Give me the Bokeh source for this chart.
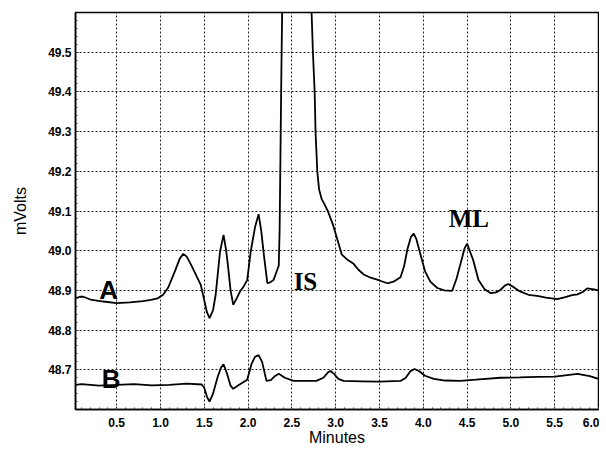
from bokeh.plotting import figure
from bokeh.models import Range1d, FixedTicker, ColumnDataSource
from bokeh.core.properties import value
from bokeh.embed import file_html
from bokeh.resources import INLINE

# ---- data ----
a_time = [0.03, 0.08, 0.12, 0.20, 0.35, 0.50, 0.65, 0.80, 0.89, 0.97,
          1.03, 1.09, 1.17, 1.22, 1.26, 1.30, 1.36, 1.42, 1.46, 1.49,
          1.53, 1.56, 1.60, 1.63, 1.68, 1.72, 1.75, 1.77, 1.80, 1.83,
          1.87, 1.91, 1.95, 1.99, 2.03, 2.08, 2.12, 2.15, 2.18, 2.22,
          2.25, 2.29, 2.33, 2.35, 2.36, 2.37, 2.38, 2.39, 2.40, 2.71,
          2.74, 2.76, 2.77, 2.79, 2.81, 2.84, 2.87, 2.91, 2.97, 3.03,
          3.07, 3.13, 3.20, 3.26, 3.32, 3.40, 3.50, 3.59, 3.66, 3.74,
          3.78, 3.82, 3.86, 3.89, 3.92, 3.95, 4.02, 4.08, 4.16, 4.24,
          4.33, 4.38, 4.42, 4.47, 4.50, 4.53, 4.57, 4.63, 4.70, 4.77,
          4.83, 4.88, 4.93, 4.97, 5.02, 5.09, 5.20, 5.30, 5.40, 5.53,
          5.62, 5.70, 5.76, 5.82, 5.87, 5.93, 6.00]
a_mv = [48.880, 48.884, 48.884, 48.877, 48.872, 48.868, 48.870, 48.873, 48.876, 48.880,
        48.889, 48.908, 48.951, 48.980, 48.992, 48.985, 48.960, 48.932, 48.914, 48.885,
        48.845, 48.830, 48.850, 48.889, 48.998, 49.040, 49.000, 48.963, 48.900, 48.864,
        48.880, 48.898, 48.910, 48.926, 48.998, 49.060, 49.092, 49.050, 48.990, 48.918,
        48.920, 48.926, 48.950, 48.962, 49.050, 49.250, 49.450, 49.620, 49.700, 49.700,
        49.500, 49.400, 49.300, 49.200, 49.155, 49.130, 49.118, 49.100, 49.065, 49.020,
        48.990, 48.978, 48.968, 48.952, 48.940, 48.932, 48.925, 48.918, 48.922, 48.933,
        48.960, 49.005, 49.035, 49.043, 49.030, 49.005, 48.948, 48.922, 48.906, 48.900,
        48.899, 48.930, 48.963, 49.005, 49.018, 49.000, 48.976, 48.926, 48.903, 48.893,
        48.895, 48.901, 48.912, 48.916, 48.910, 48.899, 48.889, 48.886, 48.882, 48.878,
        48.883, 48.888, 48.890, 48.896, 48.905, 48.903, 48.900]

b_time = [0.03, 0.10, 0.30, 0.50, 0.70, 0.90, 1.10, 1.30, 1.47, 1.50,
          1.53, 1.56, 1.60, 1.65, 1.69, 1.72, 1.76, 1.80, 1.83, 1.88,
          1.94, 1.99, 2.04, 2.08, 2.12, 2.16, 2.21, 2.26, 2.30, 2.35,
          2.42, 2.52, 2.67, 2.78, 2.86, 2.91, 2.94, 2.98, 3.03, 3.09,
          3.30, 3.50, 3.74, 3.80, 3.85, 3.90, 3.95, 4.02, 4.12, 4.25,
          4.42, 4.60, 4.88, 5.10, 5.30, 5.50, 5.76, 5.90, 6.00]
b_mv = [48.662, 48.664, 48.660, 48.662, 48.664, 48.661, 48.662, 48.665, 48.663, 48.655,
        48.632, 48.620, 48.640, 48.680, 48.705, 48.714, 48.690, 48.660, 48.652, 48.660,
        48.668, 48.675, 48.715, 48.733, 48.737, 48.720, 48.672, 48.674, 48.683, 48.690,
        48.680, 48.672, 48.672, 48.672, 48.680, 48.693, 48.697, 48.690, 48.677, 48.672,
        48.671, 48.670, 48.672, 48.680, 48.696, 48.702, 48.697, 48.685, 48.677, 48.673,
        48.672, 48.675, 48.680, 48.681, 48.682, 48.683, 48.690, 48.684, 48.677]

x_ticks = [0.5, 1.0, 1.5, 2.0, 2.5, 3.0, 3.5, 4.0, 4.5, 5.0, 5.5, 6.0]
y_ticks = [48.7, 48.8, 48.9, 49.0, 49.1, 49.2, 49.3, 49.4, 49.5]
x_minor = [round(0.1 * i, 2) for i in range(1, 60)]
y_minor = [round(48.6 + 0.02 * i, 2) for i in range(1, 50)]

trace_labels = ["A", "B"]
trace_label_x = [0.30, 0.33]
trace_label_y = [48.901, 48.677]
peak_labels = ["IS", "ML"]
peak_label_x = [2.52, 4.29]
peak_label_y = [48.923, 49.080]

# ---- figure ----
p = figure(width=599, height=448, output_backend="svg", toolbar_location=None,
           x_range=Range1d(0.03, 6.0), y_range=Range1d(48.6, 49.6),
           min_border_left=75, min_border_top=12, min_border_right=1,
           min_border_bottom=35)
p.background_fill_color = "white"
p.border_fill_color = "white"
p.outline_line_color = "black"
p.outline_line_width = 1.5

p.xaxis.ticker = FixedTicker(ticks=x_ticks, minor_ticks=x_minor)
p.yaxis.ticker = FixedTicker(ticks=y_ticks, minor_ticks=y_minor)
p.xaxis.major_label_overrides = {t: f"{t:.1f}" for t in x_ticks}
p.yaxis.major_label_overrides = {t: f"{t:.1f}" for t in y_ticks}

for ax in (p.xaxis[0], p.yaxis[0]):
    ax.axis_line_color = "black"
    ax.axis_line_width = 1.5
    ax.major_tick_in = 3
    ax.major_tick_out = 0
    ax.minor_tick_in = 2
    ax.minor_tick_out = 0
    ax.major_tick_line_color = "#333333"
    ax.minor_tick_line_color = "#333333"
    ax.major_label_text_font = "Liberation Sans"
    ax.major_label_text_font_style = "bold"
    ax.major_label_text_font_size = "12px"
    ax.major_label_text_color = "black"
    ax.axis_label_text_font = "Liberation Sans"
    ax.axis_label_text_font_style = "normal"
    ax.axis_label_text_font_size = "16px"
    ax.axis_label_text_color = "black"

p.xaxis[0].axis_label = "Minutes"
p.yaxis[0].axis_label = "mVolts"
p.xaxis[0].major_label_standoff = 8
p.xaxis[0].axis_label_standoff = -1
p.yaxis[0].major_label_standoff = 4
p.yaxis[0].axis_label_standoff = 16

p.xgrid.grid_line_color = "#222222"
p.ygrid.grid_line_color = "#222222"
p.xgrid.grid_line_dash = "2 2"
p.ygrid.grid_line_dash = "2 2"
p.xgrid.ticker = FixedTicker(ticks=x_ticks)
p.ygrid.ticker = FixedTicker(ticks=y_ticks)

p.line(a_time, a_mv, line_color="black", line_width=1.8)
p.line(b_time, b_mv, line_color="black", line_width=1.8)

src_t = ColumnDataSource(dict(x=trace_label_x, y=trace_label_y, t=trace_labels))
p.text(x="x", y="y", text="t", source=src_t, text_font=value("Liberation Sans"),
       text_font_style="bold", text_font_size="26px", text_color="black",
       text_baseline="alphabetic", text_align="left")
src_p = ColumnDataSource(dict(x=peak_label_x, y=peak_label_y, t=peak_labels))
p.text(x="x", y="y", text="t", source=src_p, text_font=value("Liberation Serif"),
       text_font_style="bold", text_font_size="25px", text_color="black",
       text_baseline="alphabetic", text_align="left")

open("out.html", "w").write(file_html(p, INLINE))
